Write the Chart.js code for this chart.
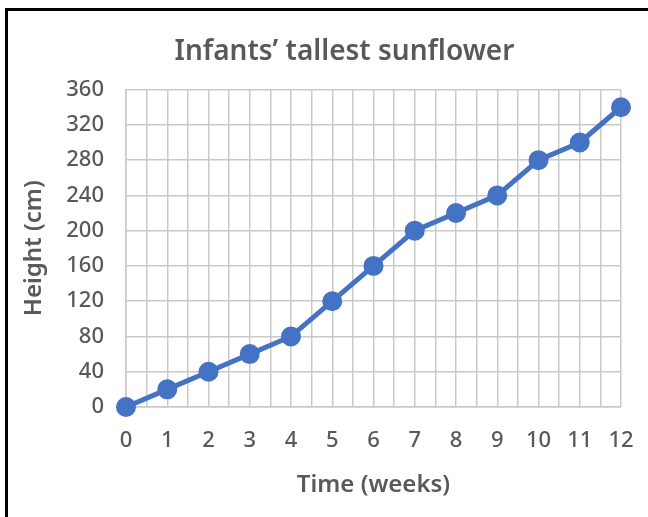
<!DOCTYPE html>
<html>
<head>
<meta charset="utf-8">
<script src="https://cdn.jsdelivr.net/npm/chart.js@4"></script>
<style>
  html, body { margin: 0; padding: 0; background: #fff; }
  #wrap { position: relative; width: 648px; height: 517px; overflow: hidden; }
  #frame { position: absolute; left: 5px; top: 8px; width: 700px; height: 600px;
           border-left: 3px solid #000; border-top: 3px solid #000; }
  canvas { position: absolute; left: 0; top: 0; }
</style>
</head>
<body>
<div id="wrap">
  <div id="frame"></div>
  <canvas id="sunflowerChart" width="648" height="517"></canvas>
</div>
<script>
const weeks = [0, 1, 2, 3, 4, 5, 6, 7, 8, 9, 10, 11, 12];
const heights = [0, 20, 40, 60, 80, 120, 160, 200, 220, 240, 280, 300, 340];
const yTicks = [0, 40, 80, 120, 160, 200, 240, 280, 320, 360];

const textGrey = "#595959";
const gridGrey = "#c9c9c9";
const fontFamily = "'Noto Sans', 'Open Sans', sans-serif";

// the title sits a little right of the canvas centre
const shiftTitle = {
    id: "shiftTitle",
    afterLayout(chart) {
        if (chart.titleBlock) {
            chart.titleBlock.left += 24;
            chart.titleBlock.right += 24;
        }
    }
};

new Chart(document.getElementById("sunflowerChart"), {
    type: "line",
    data: {
        datasets: [{
            label: "Height",
            data: weeks.map((w, i) => ({ x: w, y: heights[i] })),
            borderColor: "#4472C4",
            backgroundColor: "#4472C4",
            borderWidth: 5,
            pointRadius: 7.5,
            pointHoverRadius: 7.5,
            tension: 0,
            clip: false
        }]
    },
    plugins: [shiftTitle],
    options: {
        responsive: false,
        animation: false,
        layout: { padding: { left: 20, right: 27, top: 0, bottom: 14 } },
        plugins: {
            legend: { display: false },
            tooltip: { enabled: false },
            title: {
                display: true,
                text: "Infants’ tallest sunflower",
                color: textGrey,
                font: { family: fontFamily, size: 28, weight: "600" },
                padding: { top: 35, bottom: 21 }
            }
        },
        scales: {
            x: {
                type: "linear",
                min: weeks[0],
                max: weeks[weeks.length - 1],
                afterFit: (axis) => {
                    axis.height = 96;
                    axis.paddingLeft = 0;
                    axis.paddingRight = 0;
                },
                ticks: {
                    stepSize: 0.5,
                    autoSkip: false,
                    maxRotation: 0,
                    color: textGrey,
                    padding: 21,
                    font: { family: fontFamily, size: 22, weight: "500" },
                    callback: (v) => Number.isInteger(v) ? String(v) : ""
                },
                grid: { color: gridGrey, lineWidth: 1.5, drawTicks: false },
                border: { color: gridGrey, width: 1.5 },
                title: {
                    display: true,
                    text: "Time (weeks)",
                    color: textGrey,
                    font: { family: fontFamily, size: 24, weight: "600" },
                    padding: { top: 12, bottom: 3 }
                }
            },
            y: {
                min: yTicks[0],
                max: yTicks[yTicks.length - 1],
                afterFit: (axis) => { axis.width = 106; },
                afterBuildTicks: (axis) => { axis.ticks = yTicks.map((v) => ({ value: v })); },
                ticks: {
                    color: textGrey,
                    padding: 22,
                    font: { family: fontFamily, size: 22, weight: "500" }
                },
                grid: { color: gridGrey, lineWidth: 1.5, drawTicks: false },
                border: { color: gridGrey, width: 1.5 },
                title: {
                    display: true,
                    text: "Height (cm)",
                    color: textGrey,
                    font: { family: fontFamily, size: 24, weight: "600" },
                    padding: { top: 0, bottom: 10 }
                }
            }
        }
    }
});
</script>
</body>
</html>
